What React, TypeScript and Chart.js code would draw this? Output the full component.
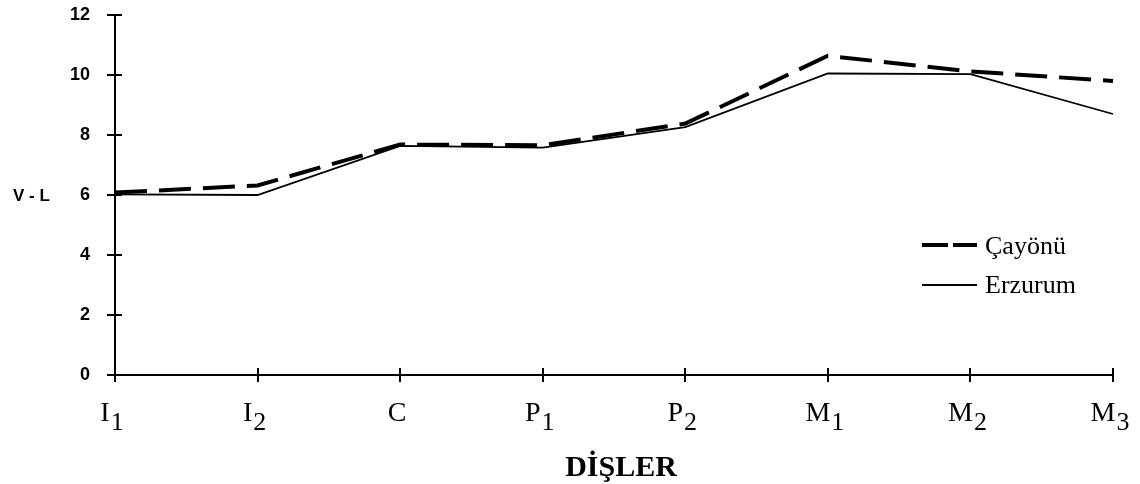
import React, { useEffect, useRef } from "react";
import { Chart, registerables } from "chart.js";

Chart.register(...registerables);

const categories = ["I1", "I2", "C", "P1", "P2", "M1", "M2", "M3"];
const cayonuValues = [6.08, 6.32, 7.68, 7.66, 8.38, 10.64, 10.12, 9.8];
const erzurumValues = [6.02, 6.0, 7.64, 7.58, 8.26, 10.05, 10.03, 8.7];
const seriesNames = ["Çayönü", "Erzurum"];
const yTitle = "V - L";
const xTitle = "DİŞLER";

const SERIF = '"Liberation Serif", "Times New Roman", Times, serif';
const SANS = '"Liberation Sans", Arial, Helvetica, sans-serif';

const decorPlugin = {
  id: "decor",
  afterDraw(chart: any) {
    const ctx: CanvasRenderingContext2D = chart.ctx;
    const xs = chart.scales.x;
    const ys = chart.scales.y;
    const area = chart.chartArea;
    ctx.save();
    ctx.strokeStyle = "#000";
    ctx.fillStyle = "#000";
    ctx.lineWidth = 2;
    // inward halves of tick marks
    ys.ticks.forEach((t: any) => {
      const y = Math.round(ys.getPixelForValue(t.value));
      ctx.beginPath();
      ctx.moveTo(area.left, y);
      ctx.lineTo(area.left + 7, y);
      ctx.stroke();
    });
    xs.ticks.forEach((_t: any, i: number) => {
      const x = Math.round(xs.getPixelForTick(i));
      ctx.beginPath();
      ctx.moveTo(x, area.bottom);
      ctx.lineTo(x, area.bottom - 7);
      ctx.stroke();
    });
    // x tick labels with subscripts
    const mainFont = `28px ${SERIF}`;
    const subFont = `26px ${SERIF}`;
    ctx.textBaseline = "alphabetic";
    ctx.textAlign = "left";
    xs.ticks.forEach((_t: any, i: number) => {
      const label = String(xs.getLabelForValue(i));
      const main = label.charAt(0);
      const sub = label.slice(1);
      ctx.font = mainFont;
      const wm = ctx.measureText(main).width;
      ctx.font = subFont;
      const wsub = sub ? ctx.measureText(sub).width : 0;
      const gap = sub ? 1 : 0;
      const total = wm + gap + wsub;
      const cx = xs.getPixelForTick(i) - 3;
      const x0 = cx - total / 2;
      ctx.font = mainFont;
      ctx.fillText(main, x0, 421);
      if (sub) {
        ctx.font = subFont;
        ctx.fillText(sub, x0 + wm + gap, 430);
      }
    });
    // x axis title
    ctx.font = `bold 30px ${SERIF}`;
    ctx.textAlign = "center";
    ctx.fillText(xTitle, 621, 476);
    // y axis title
    ctx.font = `bold 17px ${SANS}`;
    ctx.textAlign = "left";
    ctx.textBaseline = "middle";
    ctx.fillText(yTitle, 13, ys.getPixelForValue(6) + 1);
    // legend
    const ds = chart.data.datasets;
    const legendRows = [
      { y: 245, base: 254 },
      { y: 285, base: 293 },
    ];
    ds.forEach((d: any, i: number) => {
      const row = legendRows[i];
      ctx.beginPath();
      ctx.lineWidth = d.borderWidth;
      ctx.setLineDash(d.borderDash && d.borderDash.length ? [26, 5] : []);
      ctx.moveTo(922, row.y);
      ctx.lineTo(977, row.y);
      ctx.stroke();
      ctx.setLineDash([]);
      ctx.font = `26px ${SERIF}`;
      ctx.textBaseline = "alphabetic";
      ctx.textAlign = "left";
      ctx.fillText(d.label, 985, row.base);
    });
    ctx.restore();
  },
};

export default function App() {
  const ref = useRef<HTMLCanvasElement | null>(null);
  useEffect(() => {
    document.body.style.margin = "0";
    const canvas = ref.current;
    if (!canvas) return;
    const chart = new Chart(canvas, {
      type: "line",
      data: {
        labels: categories,
        datasets: [
          {
            label: seriesNames[0],
            data: cayonuValues,
            borderColor: "#000",
            borderWidth: 4,
            borderDash: [32, 12],
            pointRadius: 0,
            tension: 0,
            fill: false,
          },
          {
            label: seriesNames[1],
            data: erzurumValues,
            borderColor: "#000",
            borderWidth: 1.8,
            pointRadius: 0,
            tension: 0,
            fill: false,
          },
        ],
      },
      options: {
        animation: false,
        responsive: false,
        maintainAspectRatio: false,
        layout: { padding: { left: 0, top: 15, right: 27, bottom: 0 } },
        plugins: {
          legend: { display: false },
          tooltip: { enabled: false },
          title: { display: false },
        },
        scales: {
          x: {
            type: "category",
            offset: false,
            grid: {
              drawOnChartArea: false,
              drawTicks: true,
              tickLength: 7,
              color: "#000",
              lineWidth: 2,
            },
            border: { display: true, color: "#000", width: 2 },
            ticks: { display: false },
            afterFit: (scale: any) => {
              scale.height = 109;
              scale.paddingLeft = 0;
              scale.paddingRight = 0;
            },
          },
          y: {
            min: 0,
            max: 12,
            grid: {
              drawOnChartArea: false,
              drawTicks: true,
              tickLength: 8,
              color: "#000",
              lineWidth: 2,
            },
            border: { display: true, color: "#000", width: 2 },
            ticks: {
              stepSize: 2,
              padding: 17,
              color: "#000",
              font: { family: SANS, size: 18, weight: "bold" },
            },
            afterFit: (scale: any) => {
              scale.width = 115;
              scale.paddingTop = 0;
              scale.paddingBottom = 0;
            },
          },
        },
      },
      plugins: [decorPlugin],
    } as any);
    return () => chart.destroy();
  }, []);
  return (
    <div style={{ width: 1140, height: 484, background: "#fff" }}>
      <canvas ref={ref} width={1140} height={484} style={{ display: "block" }} />
    </div>
  );
}
